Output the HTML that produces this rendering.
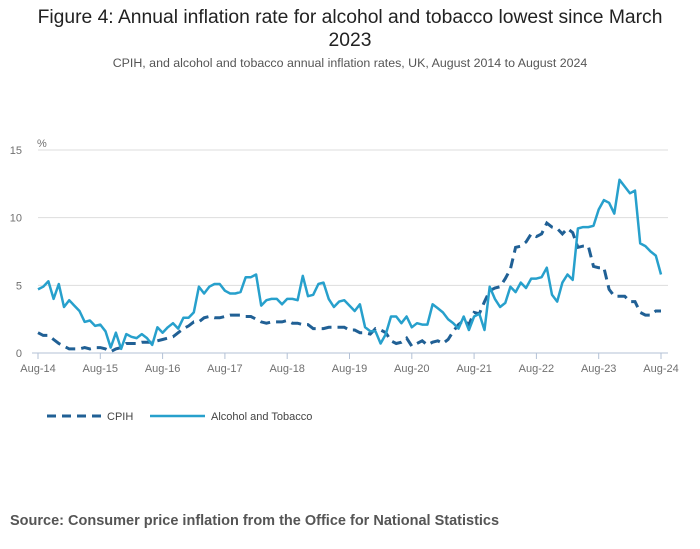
<!DOCTYPE html>
<html><head><meta charset="utf-8"><style>
body{margin:0;width:700px;height:549px;background:#fff;font-family:"Liberation Sans",sans-serif;overflow:hidden}
#title{position:absolute;top:6px;left:0;width:700px;text-align:center;font-size:19.3px;color:#222;line-height:23px}
#sub{position:absolute;top:56px;left:0;width:700px;text-align:center;font-size:12.4px;color:#555}
#src{position:absolute;top:513px;left:10px;font-size:14.5px;font-weight:bold;color:#555}
svg{position:absolute;top:0;left:0}
</style></head><body>
<div id="title">Figure 4: Annual inflation rate for alcohol and tobacco lowest since March<br>2023</div>
<div id="sub">CPIH, and alcohol and tobacco annual inflation rates, UK, August 2014 to August 2024</div>
<svg id="chart" width="700" height="549"></svg>
<div id="src">Source: Consumer price inflation from the Office for National Statistics</div>
<script>
const xTickLabels=["Aug-14","Aug-15","Aug-16","Aug-17","Aug-18","Aug-19","Aug-20","Aug-21","Aug-22","Aug-23","Aug-24"];
const yTicks=[0,5,10,15];
const cpih=[1.5,1.3,1.3,1.0,0.7,
0.5,0.3,0.3,0.3,0.4,0.3,0.4,0.4,0.3,0.1,0.3,0.4,
0.7,0.7,0.7,0.8,0.8,0.8,0.9,1.0,1.1,1.2,1.5,1.8,
2.0,2.3,2.3,2.6,2.7,2.6,2.6,2.7,2.8,2.8,2.8,2.7,
2.7,2.5,2.3,2.2,2.3,2.3,2.3,2.4,2.2,2.2,2.1,2.1,
1.8,1.8,1.8,1.9,1.9,1.9,1.9,1.7,1.7,1.5,1.5,1.4,
1.8,1.7,1.5,0.9,0.7,0.8,1.1,0.5,0.7,0.9,0.6,0.8,
0.9,0.7,1.0,1.6,2.1,2.4,2.1,3.0,2.9,3.8,4.6,4.8,
4.9,5.5,6.2,7.8,7.9,8.2,8.8,8.6,8.8,9.6,9.3,9.2,
8.8,9.2,8.9,7.8,7.9,7.9,6.4,6.3,6.3,4.7,4.2,4.2,
4.2,3.8,3.8,3.0,2.8,2.8,3.1,3.1];
const alcTob=[4.7,4.9,5.3,4.0,5.1,3.4,3.9,3.5,3.1,2.3,2.4,2.0,2.1,1.6,0.4,1.5,0.3,1.4,1.2,1.1,1.4,1.1,0.6,1.9,1.5,
1.9,2.2,1.8,2.6,2.6,3.0,4.9,4.4,4.9,5.1,5.1,4.6,4.4,4.4,4.5,5.6,5.6,5.8,3.5,3.9,4.0,4.0,3.6,4.0,4.0,3.9,5.7,4.2,4.3,5.1,5.2,4.0,3.4,3.8,3.9,
3.5,3.1,3.6,1.9,1.6,1.6,0.7,1.4,2.7,2.7,2.2,2.7,1.9,2.2,2.1,2.1,3.6,3.3,3.0,2.5,2.2,1.8,2.7,1.7,2.7,2.9,1.7,4.9,4.0,3.4,3.7,4.9,4.5,5.2,4.8,5.5,5.5,5.6,6.3,4.3,3.8,5.2,5.8,5.4,9.2,9.3,9.3,9.4,10.6,11.3,11.1,10.3,12.8,12.3,11.8,12.0,8.1,7.9,7.5,7.2,5.8];
const svg=document.getElementById('chart');const NS='http://www.w3.org/2000/svg';
const x0=38,x1=661,y0=353,y15=150;
const X=i=>x0+(x1-x0)*i/120;
const Y=v=>y0-(y0-y15)*v/15;
function mk(t,a){const e=document.createElementNS(NS,t);for(const k in a)e.setAttribute(k,a[k]);svg.appendChild(e);return e;}
yTicks.forEach(v=>{
 if(v>0){const g=mk('line',{x1:x0,x2:668,y1:Y(v),y2:Y(v),stroke:'#ddd','stroke-width':1});
 
 }
 const t=mk('text',{x:22,y:Y(v)+4,'text-anchor':'end','font-size':11,fill:'#707070'});t.textContent=v;
 
 
});
const pc=mk('text',{x:37,y:147,'font-size':11,fill:'#707070'});pc.textContent='%';


const ax=mk('line',{x1:x0-6,x2:668,y1:y0,y2:y0,stroke:'#b3c1d6','stroke-width':1});


xTickLabels.forEach((l,k)=>{const xx=X(k*12);
 const tk=mk('line',{x1:xx,x2:xx,y1:y0,y2:y0+6,stroke:'#b3c1d6'});
 
 
 const t=mk('text',{x:xx,y:372,'text-anchor':'middle','font-size':11,fill:'#707070'});t.textContent=l;
 
 
});
function path(arr){return arr.map((v,i)=>(i?'L':'M')+X(i).toFixed(1)+','+Y(v).toFixed(1)).join('');}
const lc=mk('path',{d:path(cpih),fill:'none',stroke:'#206095','stroke-width':3,'stroke-dasharray':'10,6'});


const la=mk('path',{d:path(alcTob),fill:'none',stroke:'#27a0cc','stroke-width':2.5,'stroke-linejoin':'round'});


const l1=mk('line',{x1:47,x2:102,y1:416,y2:416,stroke:'#206095','stroke-width':3,'stroke-dasharray':'9,6'});


const t1=mk('text',{x:107,y:420,'font-size':11,fill:'#444'});t1.textContent='CPIH';


const l2=mk('line',{x1:150,x2:205,y1:416,y2:416,stroke:'#27a0cc','stroke-width':2.5});


const t2=mk('text',{x:211,y:420,'font-size':11,fill:'#444'});t2.textContent='Alcohol and Tobacco';


</script>
</body></html>
